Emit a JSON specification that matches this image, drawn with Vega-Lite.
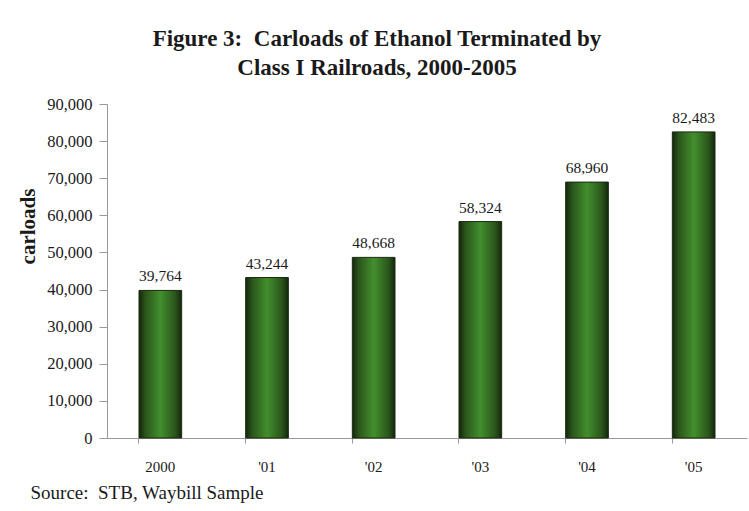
{
  "$schema": "https://vega.github.io/schema/vega-lite/v6.json",
  "autosize": {"type": "none"},
  "width": 640,
  "height": 334,
  "padding": {"left": 107, "top": 104, "right": 2, "bottom": 73},
  "background": "white",
  "config": {"view": {"stroke": null}, "font": "Liberation Serif"},
  "title": {
    "text": ["Figure 3:\u00a0 Carloads of Ethanol Terminated by", "Class I Railroads, 2000-2005"],
    "font": "Liberation Serif",
    "fontSize": 23,
    "fontWeight": "bold",
    "color": "#1a1a1a",
    "lineHeight": 29,
    "anchor": "middle",
    "dx": -50,
    "offset": 16
  },
  "data": {
    "values": [
      {"year": "2000", "carloads": 39764},
      {"year": "'01", "carloads": 43244},
      {"year": "'02", "carloads": 48668},
      {"year": "'03", "carloads": 58324},
      {"year": "'04", "carloads": 68960},
      {"year": "'05", "carloads": 82483}
    ]
  },
  "encoding": {
    "x": {
      "field": "year",
      "type": "nominal",
      "sort": null,
      "scale": {"paddingInner": 0.6, "paddingOuter": 0.3},
      "axis": {
        "title": "Source:\u00a0 STB, Waybill Sample",
        "titleFont": "Liberation Serif",
        "titleFontSize": 19,
        "titleFontWeight": "normal",
        "titleColor": "#1a1a1a",
        "titleAnchor": "start",
        "titleAlign": "left",
        "titleX": -77,
        "titleY": 60,
        "titleBaseline": "alphabetic",
        "labelAngle": 0,
        "labelFont": "Liberation Serif",
        "labelFontSize": 15,
        "labelColor": "#1a1a1a",
        "labelPadding": 16,
        "bandPosition": 0,
        "tickSize": 5,
        "tickColor": "#999999",
        "domainColor": "#999999",
        "grid": false
      }
    },
    "y": {
      "field": "carloads",
      "type": "quantitative",
      "scale": {"domain": [0, 90000]},
      "axis": {
        "title": "carloads",
        "titleFont": "Liberation Serif",
        "titleFontSize": 21,
        "titleFontWeight": "bold",
        "titleColor": "#1a1a1a",
        "titleX": -69,
        "titleY": 122,
        "titleAlign": "center",
        "titleAngle": -90,
        "values": [0, 10000, 20000, 30000, 40000, 50000, 60000, 70000, 80000, 90000],
        "format": ",d",
        "labelFont": "Liberation Serif",
        "labelFontSize": 16.5,
        "labelColor": "#1a1a1a",
        "labelPadding": 7,
        "tickSize": 8,
        "tickColor": "#999999",
        "domainColor": "#999999",
        "grid": false
      }
    }
  },
  "layer": [
    {
      "mark": {
        "type": "bar",
        "color": {
          "gradient": "linear",
          "x1": 0, "x2": 1, "y1": 0, "y2": 0,
          "stops": [
            {"offset": 0, "color": "#14260c"},
            {"offset": 0.15, "color": "#2a551b"},
            {"offset": 0.5, "color": "#428f2d"},
            {"offset": 0.85, "color": "#2a551b"},
            {"offset": 1, "color": "#14260c"}
          ]
        },
        "stroke": "#1a2a10",
        "strokeWidth": 1
      }
    },
    {
      "mark": {"type": "text", "dy": -14, "font": "Liberation Serif", "fontSize": 15.5, "color": "#1a1a1a"},
      "encoding": {
        "text": {"field": "carloads", "type": "quantitative", "format": ",d"}
      }
    }
  ]
}
